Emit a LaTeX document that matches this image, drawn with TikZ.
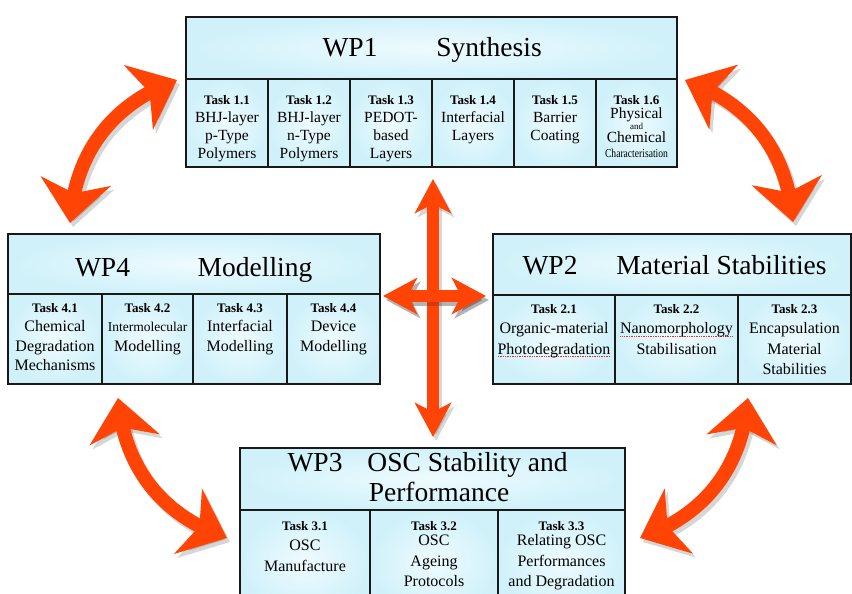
\documentclass[tikz,border=0pt]{standalone}
\usepackage{fontspec}
\usepackage{graphicx}
\setmainfont{Liberation Serif}
\usetikzlibrary{arrows.meta,bending}

\definecolor{cellin}{RGB}{238,251,254}
\definecolor{cellout}{RGB}{208,241,250}
\definecolor{framecol}{RGB}{25,25,25}
\definecolor{linkred}{RGB}{255,68,5}
\definecolor{spellred}{RGB}{225,45,45}

% bold "Task n.m" heading line inside a cell
\newcommand\tk[1]{{\fontsize{13}{13}\selectfont\bfseries #1}}
% word with a dotted red underline
\newsavebox\spellbox
\newcommand\spellmark[1]{\sbox\spellbox{#1}\rlap{\raisebox{-2.8pt}{\color{spellred}\hbox to\wd\spellbox{\xleaders\hbox to 1.7pt{\hss\rule{0.9pt}{0.9pt}\hss}\hfill}}}\usebox\spellbox}

\tikzset{
  cell/.style={draw=framecol, line width=1.3pt, inner color=cellin, outer color=cellout},
  title/.style={font=\fontsize{27.5}{30}\selectfont, inner sep=0pt, anchor=base},
  taskA/.style={font=\fontsize{15.5}{18}\selectfont, align=center, inner sep=0pt, anchor=north},
  taskB/.style={font=\fontsize{16}{19.5}\selectfont, align=center, inner sep=0pt, anchor=north},
  taskC/.style={font=\fontsize{16}{20.5}\selectfont, align=center, inner sep=0pt, anchor=north},
  link/.style={line width=14pt, arrows={Stealth[length=42pt,width=70pt,inset=12pt]-Stealth[length=42pt,width=70pt,inset=12pt]}},
  crossarrow/.style={line width=12pt, arrows={Stealth[length=34pt,width=36pt,inset=9pt]-Stealth[length=34pt,width=36pt,inset=9pt]}},
  shadowed/.style={black, opacity=0.16, transform canvas={shift={(3pt,-4pt)}}}
}

\begin{document}
\begin{tikzpicture}[x=1pt,y=1pt]
\useasboundingbox (0,0) rectangle (852,594);
\fill[white] (0,0) rectangle (852,594);

% ---------- WP1 Synthesis ----------
\path[cell] (186,515) rectangle (677,577);
\foreach \a/\b in {186/268,268/350,350/432,432/514,514/596,596/677}
  \path[cell] (\a,427) rectangle (\b,515);
\node[title] (wp1num)  at (350,537) {WP1};
\node[title] (wp1name) at (489,537) {Synthesis};
\node[taskA] (t11) at (227,498.8) {\tk{Task 1.1}\\BHJ-layer\\p-Type\\Polymers};
\node[taskA] (t12) at (309,498.8) {\tk{Task 1.2}\\BHJ-layer\\n-Type\\Polymers};
\node[taskA] (t13) at (391,498.8) {\tk{Task 1.3}\\PEDOT-\\based\\Layers};
\node[taskA] (t14) at (473,498.8) {\tk{Task 1.4}\\Interfacial\\Layers};
\node[taskA] (t15) at (555,498.8) {\tk{Task 1.5}\\Barrier\\Coating};
\node[taskA] (t16) at (636.5,498.8) {\tk{Task 1.6}\\[-4pt]Physical\\[-7pt]{\fontsize{9}{9}\selectfont and}\\[-5pt]Chemical\\[-3pt]\scalebox{0.8}[1]{\fontsize{12}{12}\selectfont Characterisation}};

% ---------- WP4 Modelling ----------
\path[cell] (8,300) rectangle (380,360);
\foreach \a/\b in {8/102,102/193,193/287,287/380}
  \path[cell] (\a,210) rectangle (\b,300);
\node[title] (wp4num)  at (102.5,317) {WP4};
\node[title] (wp4name) at (255,317) {Modelling};
\node[taskB] (t41) at (55,290.8) {\tk{Task 4.1}\\Chemical\\Degradation\\Mechanisms};
\node[taskB] (t42) at (147.5,290.8) {\tk{Task 4.2}\\{\fontsize{13.5}{13.5}\selectfont Intermolecular}\\Modelling};
\node[taskB] (t43) at (240,290.8) {\tk{Task 4.3}\\Interfacial\\Modelling};
\node[taskB] (t44) at (333.5,290.8) {\tk{Task 4.4}\\Device\\Modelling};

% ---------- WP2 Material Stabilities ----------
\path[cell] (493,299) rectangle (851,360);
\foreach \a/\b in {493/615,615/738,738/851}
  \path[cell] (\a,210) rectangle (\b,299);
\node[title] (wp2num)  at (550,319) {WP2};
\node[title] (wp2name) at (721.5,319) {Material Stabilities};
\node[taskC] (t21) at (554,289.8) {\tk{Task 2.1}\\Organic-material\\\spellmark{Photodegradation}};
\node[taskC] (t22) at (676.5,289.8) {\tk{Task 2.2}\\\spellmark{Nanomorphology}\\Stabilisation};
\node[taskC] (t23) at (794.5,289.8) {\tk{Task 2.3}\\Encapsulation\\Material\\Stabilities};

% ---------- WP3 OSC Stability and Performance ----------
\path[cell] (240,84) rectangle (625,146);
\foreach \a/\b in {240/370,370/498,498/625}
  \path[cell] (\a,-20) rectangle (\b,84);
\node[title] (wp3num)  at (315,122) {WP3};
\node[title] (wp3name) at (467.5,122) {OSC Stability and};
\node[title] (wp3more) at (439,92) {Performance};
\node[taskC] (t31) at (305,72.8) {\tk{Task 3.1}\\OSC\\Manufacture};
\node[taskC] (t32) at (434,72.8) {\tk{Task 3.2}\\[-5pt]OSC\\Ageing\\Protocols};
\node[taskC] (t33) at (561.5,72.8) {\tk{Task 3.3}\\[-5pt]Relating OSC\\Performances\\and Degradation};

% ---------- links between the work packages ----------
\coordinate (tlA) at (70,371);  \coordinate (tlB) at (177,514);
\coordinate (trA) at (793,372); \coordinate (trB) at (685,514);
\coordinate (blA) at (118,196); \coordinate (blB) at (227,56);
\coordinate (brA) at (748,196); \coordinate (brB) at (640,56);
\coordinate (vT) at (433,415);  \coordinate (vB) at (433,157);
\coordinate (hL) at (383,298);  \coordinate (hR) at (486,298);

% soft drop shadows
\draw[link, shadowed] (tlA) to[bend left=33] (tlB);
\draw[link, shadowed] (trA) to[bend right=33] (trB);
\draw[link, shadowed] (blA) to[bend right=33] (blB);
\draw[link, shadowed] (brA) to[bend left=33] (brB);
\draw[crossarrow, shadowed] (vT) -- (vB);
\draw[crossarrow, shadowed] (hL) -- (hR);

% arrows
\draw[link, linkred] (tlA) to[bend left=33] (tlB);
\draw[link, linkred] (trA) to[bend right=33] (trB);
\draw[link, linkred] (blA) to[bend right=33] (blB);
\draw[link, linkred] (brA) to[bend left=33] (brB);
\draw[crossarrow, linkred] (vT) -- (vB);
\draw[crossarrow, shadowed] (hL) -- (hR);
\draw[crossarrow, linkred] (hL) -- (hR);
\end{tikzpicture}
\end{document}
